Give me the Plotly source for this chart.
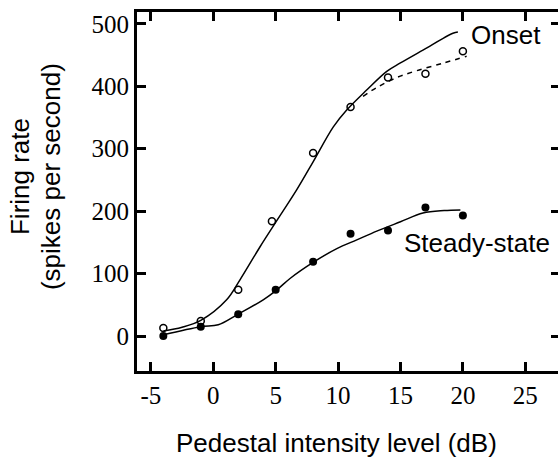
import plotly.graph_objects as go

# Data points (pedestal intensity level in dB, firing rate in spikes/s)
onset_x = [-4, -1, 2, 4.7, 8, 11, 14, 17, 20]
onset_y = [13, 24, 74, 184, 293, 367, 414, 420, 456]
steady_x = [-4, -1, 2, 5, 8, 11, 14, 17, 20]
steady_y = [0, 15, 35, 74, 119, 164, 169, 206, 193]

# Fitted curves
onset_fit_x = [-4, -2.5, -1, 1.07, 2.14, 3.75, 5.0, 6.68, 8.0, 9.62, 10.69, 12.29, 13.9, 14.96, 16.8, 19.2, 19.6]
onset_fit_y = [8, 14, 25, 58, 90, 143, 182, 234, 279, 335, 362, 394, 424, 437, 458, 485, 487]
onset_dash_x = [12.0, 13.1, 14.7, 16.3, 18.4, 20.3]
onset_dash_y = [384, 398, 414, 425, 437, 448]
steady_fit_x = [-4, -1, 0.4, 1.9, 4.0, 5.1, 6.2, 8.0, 9.9, 11.5, 13.1, 15.0, 16.8, 18.5, 19.8]
steady_fit_y = [2, 15, 18, 34, 58, 74, 93, 118, 140, 154, 168, 183, 197, 201, 202]

x_ticks = [-5, 0, 5, 10, 15, 20, 25]
x_tick_text = ["-5", "0", "5", "10", "15", "20", "25"]
y_ticks = [0, 100, 200, 300, 400, 500]
y_tick_text = ["0", "100", "200", "300", "400", "500"]

x_range = [-6.11, 27.62]
y_range = [-56, 519]

BLK = "#000000"
SERIF = "Liberation Serif"
SANS = "Liberation Sans"

fig = go.Figure()
fig.add_trace(go.Scatter(x=onset_fit_x, y=onset_fit_y, mode="lines",
                         line=dict(color=BLK, width=1.5, shape="spline")))
fig.add_trace(go.Scatter(x=onset_dash_x, y=onset_dash_y, mode="lines",
                         line=dict(color=BLK, width=1.5, dash="5px,5px", shape="spline")))
fig.add_trace(go.Scatter(x=steady_fit_x, y=steady_fit_y, mode="lines",
                         line=dict(color=BLK, width=1.5, shape="spline")))
fig.add_trace(go.Scatter(x=onset_x, y=onset_y, mode="markers",
                         marker=dict(symbol="circle-open", size=7, color=BLK, line=dict(width=1.5))))
fig.add_trace(go.Scatter(x=steady_x, y=steady_y, mode="markers",
                         marker=dict(symbol="circle", size=8, color=BLK)))
# invisible anchor trace for the top / right tick axes
fig.add_trace(go.Scatter(x=[x_range[0]], y=[y_range[0]], xaxis="x2", yaxis="y2", mode="markers",
                         marker=dict(size=1, opacity=0), showlegend=False, hoverinfo="skip"))

fig.update_layout(
    width=558, height=459,
    margin=dict(l=137, r=0, t=12, b=88),
    showlegend=False,
    xaxis=dict(range=x_range, tickvals=x_ticks, ticktext=x_tick_text,
               showline=True, linewidth=3, linecolor=BLK, mirror=False,
               ticks="inside", ticklen=9, tickwidth=3, tickcolor=BLK,
               showgrid=False, zeroline=False,
               tickfont=dict(family=SERIF, size=25, color=BLK)),
    yaxis=dict(range=y_range, tickvals=y_ticks, ticktext=y_tick_text,
               showline=True, linewidth=3, linecolor=BLK, mirror=False,
               ticks="inside", ticklen=9, tickwidth=3, tickcolor=BLK,
               showgrid=False, zeroline=False,
               tickfont=dict(family=SERIF, size=25, color=BLK)),
    xaxis2=dict(range=x_range, tickvals=x_ticks, overlaying="x", side="top",
                showline=True, linewidth=3, linecolor=BLK,
                ticks="inside", ticklen=9, tickwidth=3, tickcolor=BLK,
                showticklabels=False, showgrid=False, zeroline=False),
    yaxis2=dict(range=y_range, tickvals=y_ticks, overlaying="y", side="right",
                showline=False,
                ticks="inside", ticklen=7, tickwidth=3, tickcolor=BLK,
                showticklabels=False, showgrid=False, zeroline=False),
    annotations=[
        dict(text="Pedestal intensity level (dB)", xref="paper", yref="paper",
             x=0.474, y=-0.2006, xanchor="center", yanchor="middle", showarrow=False,
             font=dict(family=SANS, size=26, color=BLK)),
        dict(text="Firing rate", xref="paper", yref="paper",
             x=-0.278, y=0.543, xanchor="center", yanchor="middle", showarrow=False,
             textangle=-90, font=dict(family=SANS, size=26, color=BLK)),
        dict(text="(spikes per second)", xref="paper", yref="paper",
             x=-0.2043, y=0.543, xanchor="center", yanchor="middle", showarrow=False,
             textangle=-90, font=dict(family=SANS, size=26, color=BLK)),
        dict(text="Onset", x=23.44, y=482, xref="x", yref="y", showarrow=False,
             xanchor="center", yanchor="middle",
             font=dict(family=SANS, size=26, color=BLK)),
        dict(text="Steady-state", x=21.1, y=148.6, xref="x", yref="y", showarrow=False,
             xanchor="center", yanchor="middle",
             font=dict(family=SANS, size=26, color=BLK)),
    ],
)
fig.update_layout(paper_bgcolor="#ffffff", plot_bgcolor="#ffffff")

fig.write_html("out.html")
